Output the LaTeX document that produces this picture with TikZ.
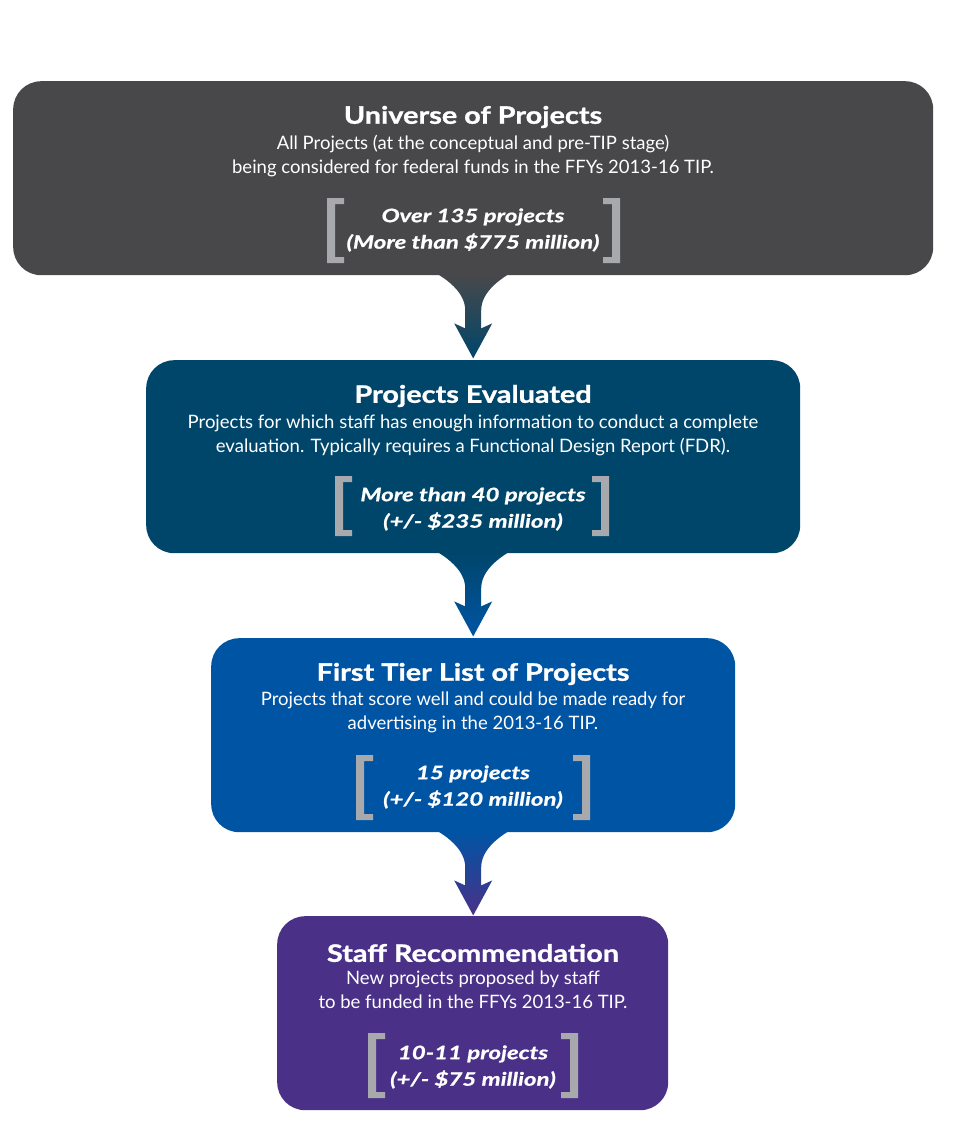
\documentclass[tikz,border=0pt]{standalone}
\usepackage{fontspec}
\setmainfont{Lato}
\newfontfamily\titlefont{Lato}[FakeStretch=1.2,FakeBold=1.2]
\newfontfamily\numfont{Lato}[FakeStretch=1.3,FakeBold=0.8]
\usetikzlibrary{calc}
\definecolor{cgray}{RGB}{72,72,74}
\definecolor{cteal}{RGB}{0,70,107}
\definecolor{cblue}{RGB}{0,84,164}
\definecolor{cpurple}{RGB}{74,49,135}
\definecolor{cbrk}{RGB}{167,169,172}
\tikzset{
  stagebox/.style={draw=none, fill=#1, rounded corners=28pt, anchor=north west, inner sep=0pt},
  titletext/.style={text=white, font=\titlefont\fontsize{24}{28}\selectfont\bfseries, anchor=center},
  bodytext/.style={text=white, font=\fontsize{18.5}{24}\selectfont, align=center, anchor=center},
  numtext/.style={text=white, font=\numfont\fontsize{18.5}{26.5}\selectfont\bfseries\itshape, align=center, anchor=center},
}
% left/right brackets: #1 = outer x left, #2 = outer x right, #3 = top y, #4 = bottom y
\newcommand\brackpair[4]{%
  \fill[cbrk] (#1,#3) -- ++(17,0) -- ++(0,6) -- ++(-9,0) -- (#1+8,#4-6) -- ++(9,0) -- ++(0,6) -- (#1,#4) -- cycle;
  \fill[cbrk] (#2,#3) -- ++(-17,0) -- ++(0,6) -- ++(9,0) -- (#2-8,#4-6) -- ++(-9,0) -- ++(0,6) -- (#2,#4) -- cycle;
}
% funnel arrow from bottom of box #1 ; colours #2 -> #3
\newcommand\funnel[3]{%
  \shade[top color=#2, bottom color=#3]
    ($(#1.south)+(-35,-1)$) .. controls ($(#1.south)+(-24,6)$) and ($(#1.south)+(-8,18)$) .. ($(#1.south)+(-8,35)$)
    -- ($(#1.south)+(-8,53)$) -- ($(#1.south)+(-19,48)$) -- ($(#1.south)+(0,83)$)
    -- ($(#1.south)+(19,48)$) -- ($(#1.south)+(8,53)$) -- ($(#1.south)+(8,35)$)
    .. controls ($(#1.south)+(8,18)$) and ($(#1.south)+(24,6)$) .. ($(#1.south)+(35,-1)$) -- cycle;
}
\begin{document}
\begin{tikzpicture}[x=1pt,y=-1pt]
\useasboundingbox (0,0) rectangle (964,1125);
% boxes
\node[stagebox=cgray, minimum width=920pt, minimum height=194pt] (b1) at (13,81) {};
\node[stagebox=cteal, minimum width=654pt, minimum height=193pt] (b2) at (146,360) {};
\node[stagebox=cblue, minimum width=524pt, minimum height=194pt] (b3) at (211,638) {};
\node[stagebox=cpurple, minimum width=391pt, minimum height=194pt] (b4) at (277,916) {};
% arrows
\funnel{b1}{cgray}{cteal}
\funnel{b2}{cteal}{cblue}
\funnel{b3}{cblue}{cpurple}
% box 1 texts
\node[titletext] (t1) at (473,117) {Universe of Projects};
\node[bodytext] (d1) at (473,156) {All Projects (at the conceptual and pre-TIP stage)\\being considered for federal funds in the FFYs 2013-16 TIP.};
\node[numtext] (n1) at (473,230) {Over 135 projects\\(More than \$775 million)};
\brackpair{327}{620}{198}{263}
% box 2 texts
\node[titletext] (t2) at (473,396) {Projects Evaluated};
\node[bodytext] (d2) at (473,435) {Projects for which staff has enough information to conduct a complete\\evaluation. Typically requires a Functional Design Report (FDR).};
\node[numtext] (n2) at (473,509) {More than 40 projects\\(+/- \$235 million)};
\brackpair{335}{609}{476}{536}
% box 3 texts
\node[titletext] (t3) at (473,674) {First Tier List of Projects};
\node[bodytext] (d3) at (473,712) {Projects that score well and could be made ready for\\advertising in the 2013-16 TIP.};
\node[numtext] (n3) at (473,787) {15 projects\\(+/- \$120 million)};
\brackpair{356}{590}{755}{820}
% box 4 texts
\node[titletext] (t4) at (473,953) {Staff Recommendation};
\node[bodytext] (d4) at (473,990) {New projects proposed by staff\\to be funded in the FFYs 2013-16 TIP.};
\node[numtext] (n4) at (473,1067) {10-11 projects\\(+/- \$75 million)};
\brackpair{368}{578}{1033}{1098}
\end{tikzpicture}
\end{document}
